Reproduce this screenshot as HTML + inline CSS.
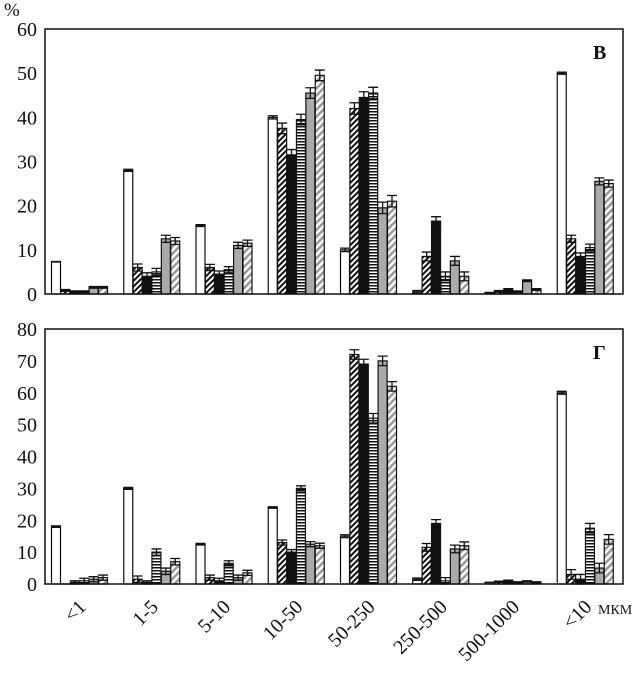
<!DOCTYPE html>
<html><head><meta charset="utf-8"><style>
body{margin:0;background:#fff}
text{font-family:"Liberation Serif",serif;fill:#111}
</style></head><body>
<svg id="c" width="643" height="673" viewBox="0 0 643 673" xmlns="http://www.w3.org/2000/svg">
<defs>
<pattern id="hb" patternUnits="userSpaceOnUse" width="4" height="4" patternTransform="rotate(45)"><rect width="4" height="4" fill="#fff"/><rect width="2" height="4" fill="#111"/></pattern>
<pattern id="hg" patternUnits="userSpaceOnUse" width="5" height="5" patternTransform="rotate(45)"><rect width="5" height="5" fill="#fff"/><rect width="2.5" height="5" fill="#999"/></pattern>
<pattern id="hs" patternUnits="userSpaceOnUse" width="4" height="3"><rect width="4" height="3" fill="#fff"/><rect width="4" height="1.5" fill="#111"/></pattern>
</defs>
</svg>
<script>
const categories=["<1","1-5","5-10","10-50","50-250","250-500","500-1000","<10"];
const topS1=[7.3,28,15.5,40,10,0.5,0.3,50];
const topS2=[0.8,6,6,37.5,42,8.5,0.6,12.5];
const topS3=[0.5,4,4.5,31.5,44.5,16.5,1,8.5];
const topS4=[0.5,5,5.5,39.5,45.5,4,0.5,10.5];
const topS5=[1.5,12.5,11,45.5,19.5,7.5,3,25.5];
const topS6=[1.5,12,11.5,49.5,21,4,1,25];
const topErr=[0.2,0.8,0.7,1.2,1.3,1,0.2,0.8];
const botS1=[18,30,12.5,24,15,1.5,0.5,60];
const botS2=[0,1.5,2,13,72,11.5,0.7,3];
const botS3=[0.5,0.5,1,10,69,19,1,1.5];
const botS4=[1,10,6.5,30,52,1,0.5,17.5];
const botS5=[1.5,4,2,12.5,70,11,0.8,5];
const botS6=[2,7,3.5,12,62,12,0.5,14];
const botErr=[0.8,1,0.8,0.8,1.5,1.2,0.2,1.5];
const topTicks=[0,10,20,30,40,50,60];
const botTicks=[0,10,20,30,40,50,60,70,80];
const fills=["#fff","url(#hb)","#111","url(#hs)","#aaa","url(#hg)"];
const NS="http://www.w3.org/2000/svg";
const svg=document.getElementById('c');
function mk(t,a,p){const e=document.createElementNS(NS,t);for(const k in a)e.setAttribute(k,a[k]);(p||svg).appendChild(e);return e;}
const X0=45,X1=623,bw=(X1-X0)/categories.length;
function xBand(i){return X0+i*bw;}
function panel(name,yTop,yZero,max,ticks,series,err,letter){
  const g=mk('g',{});
  
  
  const y=v=>yZero-(v/max)*(yZero-yTop);
  ticks.forEach(t=>{const tx=mk('text',{x:37,y:y(t)+7,'text-anchor':'end','font-size':20},g);tx.textContent=t;
    
    });
  series.forEach((s,si)=>{s.forEach((v,i)=>{
    const x=xBand(i)+6.5+si*9.4;
    const r=mk('rect',{x:x,y:y(v),width:9,height:yZero-y(v),fill:fills[si],stroke:'#111','stroke-width':1.2},g);
    
    
    const e=Math.min(err[i]*(si==0?0.3:1),v);
    const cx=x+4.5;
    mk('path',{d:`M${cx},${y(v-e)}V${y(v+e)}M${cx-5},${y(v+e)}H${cx+5}M${cx-5},${y(v-e)}H${cx+5}`,stroke:'#111','stroke-width':1.3,fill:'none'},g);
  });});
  const f=mk('rect',{x:X0,y:yTop,width:X1-X0,height:yZero-yTop,fill:'none',stroke:'#111','stroke-width':1.5},g);
  
  
  const L=mk('text',{x:X1-30,y:yTop+30,'font-size':20,'font-weight':'bold'},g);L.textContent=letter;
  
  
}
panel('panel-v',29,294,60,topTicks,[topS1,topS2,topS3,topS4,topS5,topS6],topErr,'В');
panel('panel-g',329,584,80,botTicks,[botS1,botS2,botS3,botS4,botS5,botS6],botErr,'Г');
categories.forEach((c,i)=>{const cx=xBand(i)+bw/2;
  const t=mk('text',{x:cx+6,y:608,'text-anchor':'end','font-size':20,transform:`rotate(-45 ${cx+6} 608)`});t.textContent=c;
  
  });
const u=mk('text',{x:598,y:614,'font-size':14});u.textContent='МКМ';


const p=mk('text',{x:4,y:16,'font-size':19});p.textContent='%';


</script>
</body></html>
